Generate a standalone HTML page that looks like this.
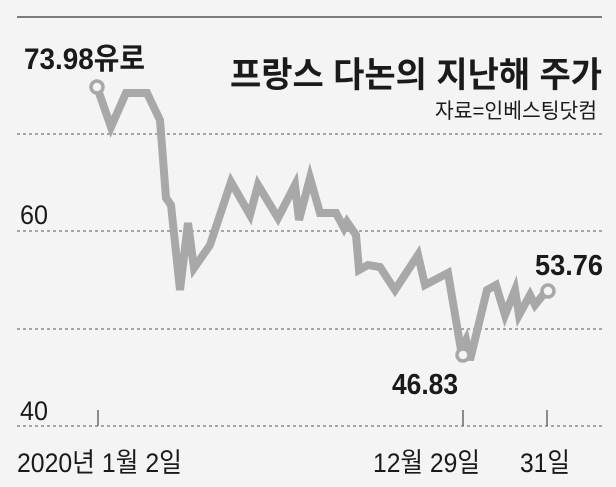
<!DOCTYPE html>
<html><head><meta charset="utf-8"><style>
html,body{margin:0;padding:0;background:#f4f4f4;}
svg{display:block;}
text{font-family:"Liberation Sans","Noto Sans CJK KR",sans-serif;fill:#1a1a1a;}
</style></head><body>
<svg width="616" height="487" viewBox="0 0 616 487" xmlns="http://www.w3.org/2000/svg">
<rect width="616" height="487" fill="#f4f4f4"/>
<line x1="17" y1="17" x2="602" y2="17" stroke="#555" stroke-width="1.5"/>
<g stroke="#777" stroke-width="1.3" stroke-dasharray="3,3">
<line x1="17" y1="134" x2="602" y2="134"/>
<line x1="17" y1="231" x2="602" y2="231"/>
<line x1="17" y1="329" x2="602" y2="329"/>
<line x1="17" y1="426" x2="602" y2="426"/>
</g>
<g stroke="#555" stroke-width="1.3">
<line x1="98" y1="410" x2="98" y2="426"/>
<line x1="463" y1="410" x2="463" y2="426"/>
<line x1="547" y1="410" x2="547" y2="426"/>
</g>
<text x="24" y="69" font-size="30" font-weight="bold" textLength="121" lengthAdjust="spacingAndGlyphs">73.98유로</text>
<text x="230" y="87" font-size="35" font-weight="bold" textLength="372" lengthAdjust="spacingAndGlyphs">프랑스 다논의 지난해 주가</text>
<text x="435" y="118" font-size="21" fill="#333" textLength="162" lengthAdjust="spacingAndGlyphs">자료=인베스팅닷컴</text>
<text x="20" y="224" font-size="27" textLength="28" lengthAdjust="spacingAndGlyphs">60</text>
<text x="20" y="420" font-size="27" textLength="28" lengthAdjust="spacingAndGlyphs">40</text>
<text x="17" y="472" font-size="27" textLength="165" lengthAdjust="spacingAndGlyphs">2020년 1월 2일</text>
<text x="373" y="472" font-size="27" textLength="107" lengthAdjust="spacingAndGlyphs">12월 29일</text>
<text x="520" y="472" font-size="27" textLength="50" lengthAdjust="spacingAndGlyphs">31일</text>
<text x="392" y="394" font-size="29" font-weight="bold" textLength="66" lengthAdjust="spacingAndGlyphs">46.83</text>
<text x="535" y="275" font-size="29" font-weight="bold" textLength="68" lengthAdjust="spacingAndGlyphs">53.76</text>
<polyline fill="none" stroke="#a8a8a8" stroke-width="8" stroke-linejoin="miter" points="97,87 111,127 126,93 147,93 160,120 166,198 171,205 180,290 188,223 194,268 210,245 231,182 250,215 258,185 278,218 295,185 299,220 310,178 320,213 336,213 344,228 347,222 356,235 359,270 368,265 380,267 395,290 418,255 425,285 448,273 461,350 466,340 470,360 487,290 496,285 505,315 515,290 519,315 530,295 535,305 547,290"/>
<circle cx="97" cy="87" r="6" fill="#f4f4f4" stroke="#a8a8a8" stroke-width="3.5"/>
<circle cx="463" cy="355" r="6" fill="#f4f4f4" stroke="#a8a8a8" stroke-width="3.5"/>
<circle cx="548" cy="291" r="6" fill="#f4f4f4" stroke="#a8a8a8" stroke-width="3.5"/>
</svg>
</body></html>
